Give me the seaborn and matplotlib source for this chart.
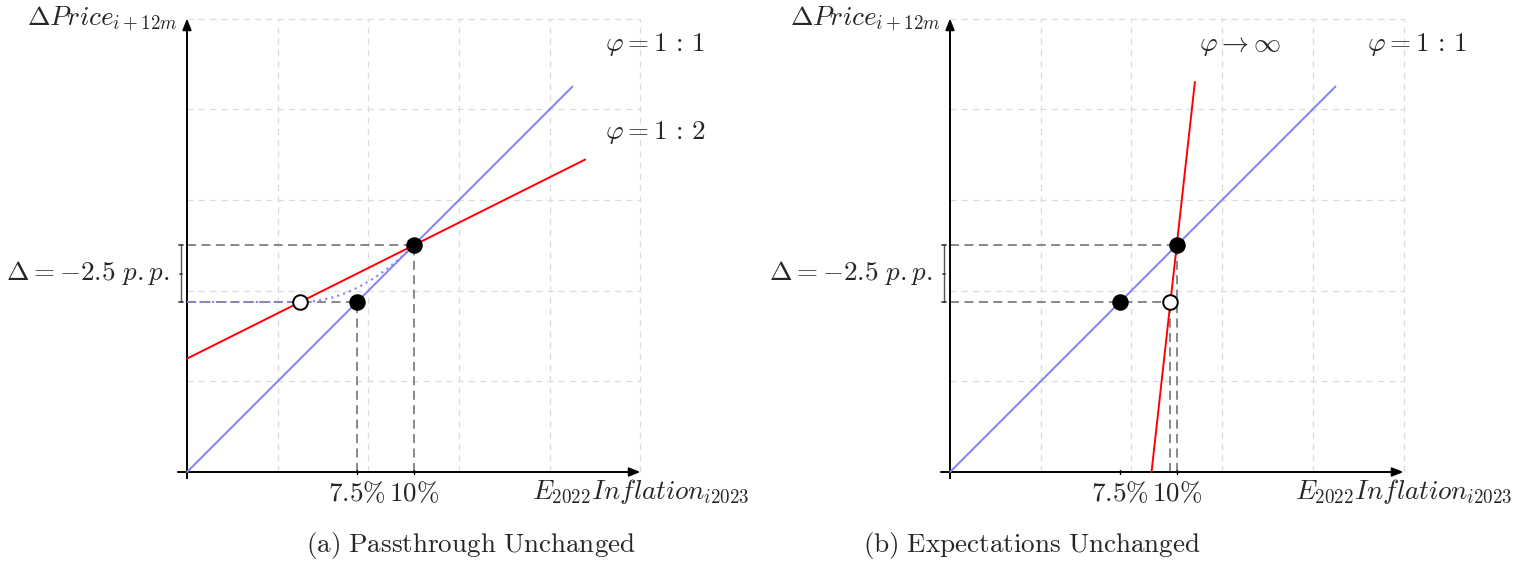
import numpy as np
import pandas as pd
import matplotlib
matplotlib.use("Agg")
import matplotlib.pyplot as plt
import seaborn as sns

# ---------------- data (diagram units: 1 grid cell = 4 percentage points) ----
pct_per_unit = 4.0
tick_pct = [7.5, 10.0]
tick_labels = [r'$7.5\%$', r'$10\%$']

phi11_x = [0.0, 4.25]           # 45-degree line, phi = 1:1
phi11_y = [0.0, 4.25]
phi12_x = [0.0, 4.39]           # phi = 1:2 (panel a)
phi12_y = [1.25, 3.445]
phiinf_x = [2.222, 2.70]        # phi -> infinity (panel b)
phiinf_y = [0.0, 4.30]

filled_x = [2.5, 1.875]
filled_y = [2.5, 1.875]
open_a_x = [1.25]
open_a_y = [1.875]
open_b_x = [2.43]
open_b_y = [1.875]

grid_vals = [1, 2, 3, 4, 5]

BLUE = '#8080ff'
RED = '#ff0000'
GRID = '#dcdcdc'
GUIDE = '#7f7f7f'

sns.set_theme(style='white')
plt.rcParams['mathtext.fontset'] = 'cm'
plt.rcParams['font.family'] = ['DejaVu Serif']

u = 90.7
W, H = 1527, 569
fig = plt.figure(figsize=(W / 100, H / 100), dpi=100)
fig.patch.set_facecolor('white')

FS = 19.5


def setup(ax, x0pix, left, right):
    ax.set_xlim((left - x0pix) / u, (right - x0pix) / u)
    ax.set_ylim((472 - H) / u, 472 / u)
    ax.axis('off')
    # grid
    for g in grid_vals:
        ax.plot([g, g], [0, 5], color=GRID, lw=0.9, ls=(0, (5, 4)), zorder=0)
        ax.plot([0, 5], [g, g], color=GRID, lw=0.9, ls=(0, (5, 4)), zorder=0)
    # axes with arrows
    ax.annotate('', xy=(5.0, 0), xytext=(-0.1, 0),
                arrowprops=dict(arrowstyle='-|>,head_length=0.55,head_width=0.22',
                                color='black', lw=1.4, shrinkA=0, shrinkB=0))
    ax.annotate('', xy=(0, 5.0), xytext=(0, -0.07),
                arrowprops=dict(arrowstyle='-|>,head_length=0.55,head_width=0.22',
                                color='black', lw=1.4, shrinkA=0, shrinkB=0))
    ax.text(-0.1, 5.0, r'$\Delta Price_{i+12m}$', ha='right', va='center', fontsize=FS)
    ax.text(5.0, -0.22, r'$E_{2022}Inflation_{i2023}$', ha='center', va='center', fontsize=FS)
    tx = [p / pct_per_unit for p in tick_pct]
    for x, lab in zip(tx, tick_labels):
        ax.text(x, -0.24, lab, ha='center', va='center', fontsize=FS)
        ax.plot([x, x], [-0.02, 0.02], color='black', lw=1.0, zorder=5)
    # bracket
    bx = -0.066
    ax.plot([bx, bx], [1.875, 2.5], color='#555555', lw=1.0)
    for yy in (1.875, 2.5):
        ax.plot([bx - 0.025, bx + 0.025], [yy, yy], color='#333333', lw=1.2)
    ax.plot([bx - 0.01, bx + 0.01], [2.1875, 2.1875], color='#333333', lw=1.2)
    ax.text(-0.19, 2.19, r'$\Delta = -2.5\ p.p.$', ha='right', va='center', fontsize=FS)


def guides(ax, pts):
    for (x, y) in pts:
        ax.plot([0, x], [y, y], color=GUIDE, lw=1.3, ls=(0, (5, 3)), zorder=2)
        ax.plot([x, x], [0, y], color=GUIDE, lw=1.3, ls=(0, (5, 3)), zorder=2)


def line(ax, xs, ys, color):
    df = pd.DataFrame({'x': xs, 'y': ys})
    sns.lineplot(data=df, x='x', y='y', ax=ax, color=color, lw=1.4,
                 sort=False, estimator=None, zorder=3)


def points(ax, xs, ys, face):
    df = pd.DataFrame({'x': xs, 'y': ys})
    sns.scatterplot(data=df, x='x', y='y', ax=ax, s=110, color=face,
                    edgecolor='black', linewidth=1.4, zorder=6)


# ---------------- panel (a) ----------------
ax1 = fig.add_axes([0, 0, 763 / W, 1])
setup(ax1, 187, 0, 763)
guides(ax1, [(2.5, 2.5), (1.875, 1.875)])
line(ax1, phi11_x, phi11_y, BLUE)
line(ax1, phi12_x, phi12_y, RED)
# dotted adjustment path
t = np.linspace(0, 1, 60)
p0 = np.array([open_a_x[0], open_a_y[0]])
p1 = np.array([filled_x[1], filled_y[1]])
p2 = np.array([filled_x[0], filled_y[0]])
curve = (1 - t)[:, None] ** 2 * p0 + 2 * ((1 - t) * t)[:, None] * p1 + (t ** 2)[:, None] * p2
ax1.plot([0, open_a_x[0]], [open_a_y[0], open_a_y[0]], color=BLUE, lw=1.5,
         ls=(0, (1, 2.0)), zorder=4)
ax1.plot(curve[:, 0], curve[:, 1], color=BLUE, lw=1.5, ls=(0, (1, 2.0)), zorder=4)
points(ax1, filled_x, filled_y, 'black')
points(ax1, open_a_x, open_a_y, 'white')
ax1.text(5.16, 4.71, r'$\varphi = 1\,:\,1$', ha='center', va='center', fontsize=FS)
ax1.text(5.16, 3.74, r'$\varphi = 1\,:\,2$', ha='center', va='center', fontsize=FS)
ax1.text(3.13, -0.81, r'$\mathrm{(a)\ Passthrough\ Unchanged}$', ha='center',
         va='center', fontsize=FS)
ax1.set_xlabel('')
ax1.set_ylabel('')

# ---------------- panel (b) ----------------
ax2 = fig.add_axes([763 / W, 0, 764 / W, 1])
setup(ax2, 950, 763, 1527)
guides(ax2, [(2.5, 2.5), (open_b_x[0], open_b_y[0])])
line(ax2, phi11_x, phi11_y, BLUE)
line(ax2, phiinf_x, phiinf_y, RED)
points(ax2, filled_x, filled_y, 'black')
points(ax2, open_b_x, open_b_y, 'white')
ax2.text(3.20, 4.71, r'$\varphi \rightarrow \infty$', ha='center', va='center', fontsize=FS)
ax2.text(5.15, 4.71, r'$\varphi = 1\,:\,1$', ha='center', va='center', fontsize=FS)
ax2.text(0.90, -0.81, r'$\mathrm{(b)\ Expectations\ Unchanged}$', ha='center',
         va='center', fontsize=FS)
ax2.set_xlabel('')
ax2.set_ylabel('')

fig.savefig('out.png', dpi=100, facecolor='white')
